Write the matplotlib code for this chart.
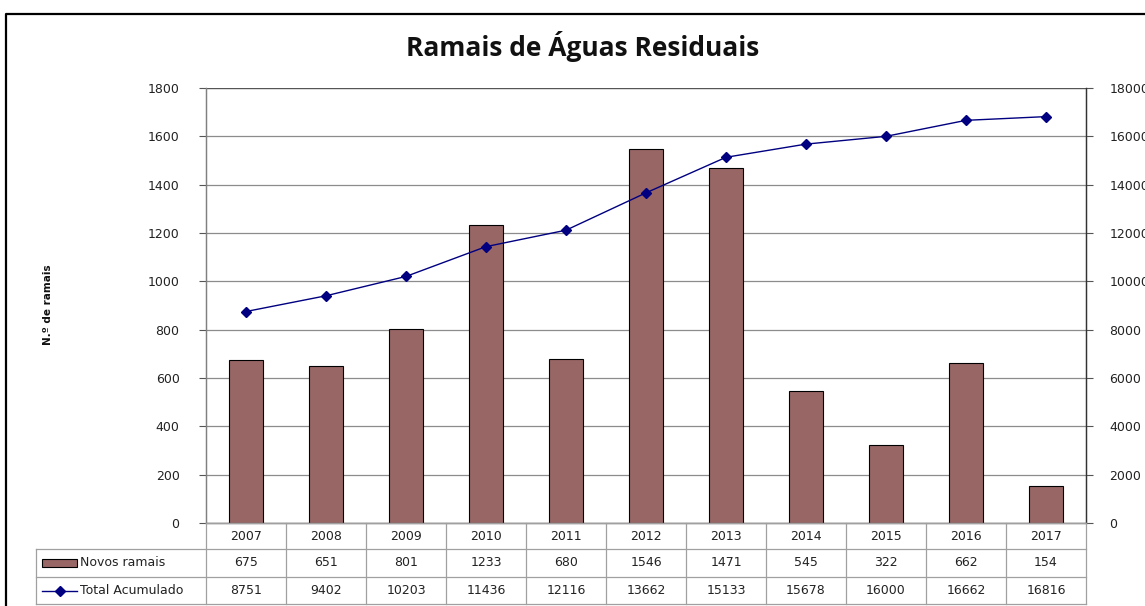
import matplotlib
matplotlib.use("Agg")
import matplotlib.pyplot as plt
from matplotlib.lines import Line2D
from matplotlib.patches import Rectangle
import numpy as np

years = ["2007", "2008", "2009", "2010", "2011", "2012", "2013", "2014", "2015", "2016", "2017"]
novos_ramais = [675, 651, 801, 1233, 680, 1546, 1471, 545, 322, 662, 154]
total_acumulado = [8751, 9402, 10203, 11436, 12116, 13662, 15133, 15678, 16000, 16662, 16816]
series_names = ["Novos ramais", "Total Acumulado"]
title = "Ramais de Águas Residuais"
ylabel = "N.º de ramais"

W, H = 1145, 606
fig = plt.figure(figsize=(W / 100, H / 100), dpi=100)
plt.rcParams['font.family'] = ['DejaVu Sans']

def fx(px):
    return px / W

def fy(py):
    return 1 - py / H

left_px, right_px, top_px, bot_px = 206, 1086, 88, 523
ax = fig.add_axes([fx(left_px), fy(bot_px), fx(right_px - left_px), fy(top_px) - fy(bot_px)])
ax2 = ax.twinx()

x = np.arange(len(years))
bar_color = "#996666"
line_color = "#000080"

ax.bar(x, novos_ramais, width=0.42, color=bar_color, edgecolor="black", linewidth=0.8, zorder=3)
ax.set_xlim(-0.5, len(years) - 0.5)
ax.set_ylim(0, 1800)
ax.set_yticks(np.arange(0, 1801, 200))
ax.yaxis.grid(True, color="#8c8c8c", linewidth=0.9)
ax.set_axisbelow(True)
ax.set_xticks([])
ax.tick_params(axis="y", labelsize=9, length=5, width=0.8, color="#555555", pad=14, labelcolor="#222222")

ax2.plot(x, total_acumulado, color=line_color, marker="D", markersize=5, linewidth=1.0, zorder=4)
ax2.set_ylim(0, 18000)
ax2.set_yticks(np.arange(0, 18001, 2000))
ax2.tick_params(axis="y", labelsize=9, length=5, width=0.8, color="#555555", pad=12, labelcolor="#222222")

for a in (ax, ax2):
    a.spines["top"].set_visible(False)
    a.spines["left"].set_color("#808080")
    a.spines["right"].set_color("#333333")
    a.spines["bottom"].set_color("#808080")
    a.spines["left"].set_linewidth(0.9)
    a.spines["right"].set_linewidth(0.9)
    a.spines["bottom"].set_linewidth(0.9)

ax.axhline(1800, color="#555555", linewidth=0.9, zorder=2)

fig.text(fx(583), fy(46), title, ha="center", va="center", fontsize=19, fontweight="bold",
         family="Open Sans", color="#111111")
fig.text(fx(48), fy(305), ylabel, ha="center", va="center", rotation=90, fontsize=7.5, fontweight="bold",
         color="#111111")

# Data table
rows_y = [523, 549, 577, 604]
col_w = (right_px - left_px) / len(years)
grid_c = "#a0a0a0"
table_left = 36
lw = 0.9

def hline(y, x0, x1):
    fig.add_artist(Line2D([fx(x0), fx(x1)], [fy(y), fy(y)], color=grid_c, linewidth=lw))

def vline(xp, y0, y1):
    fig.add_artist(Line2D([fx(xp), fx(xp)], [fy(y0), fy(y1)], color=grid_c, linewidth=lw))

hline(rows_y[0], left_px, right_px)
hline(rows_y[1], table_left, right_px)
hline(rows_y[2], table_left, right_px)
hline(rows_y[3], table_left, right_px)
vline(table_left, rows_y[1], rows_y[3])
for i in range(len(years) + 1):
    vline(left_px + i * col_w, rows_y[0], rows_y[3])

row_vals = [novos_ramais, total_acumulado]
for i, yr in enumerate(years):
    cx = left_px + (i + 0.5) * col_w
    fig.text(fx(cx), fy((rows_y[0] + rows_y[1]) / 2), yr, ha="center", va="center", fontsize=9, color="#222222")
    for r in range(2):
        fig.text(fx(cx), fy((rows_y[r + 1] + rows_y[r + 2]) / 2), str(row_vals[r][i]),
                 ha="center", va="center", fontsize=9, color="#222222")

# legend keys in row labels
ymid1 = (rows_y[1] + rows_y[2]) / 2
fig.add_artist(Rectangle((fx(42), fy(ymid1 + 4)), fx(35), fy(ymid1 - 4) - fy(ymid1 + 4),
                         facecolor=bar_color, edgecolor="black", linewidth=0.8))
fig.text(fx(80), fy(ymid1), series_names[0], ha="left", va="center", fontsize=9, color="#222222")
ymid2 = (rows_y[2] + rows_y[3]) / 2
fig.add_artist(Line2D([fx(42), fx(77)], [fy(ymid2), fy(ymid2)], color=line_color, linewidth=1.0))
fig.add_artist(Line2D([fx(59.5)], [fy(ymid2)], color=line_color, marker="D", markersize=5, linestyle="none"))
fig.text(fx(80), fy(ymid2), series_names[1], ha="left", va="center", fontsize=9, color="#222222")

# outer chart border
fig.add_artist(Line2D([fx(6), fx(6), fx(1145)], [fy(606), fy(14), fy(14)], color="black", linewidth=1.6))

fig.savefig("out.png", dpi=100)
